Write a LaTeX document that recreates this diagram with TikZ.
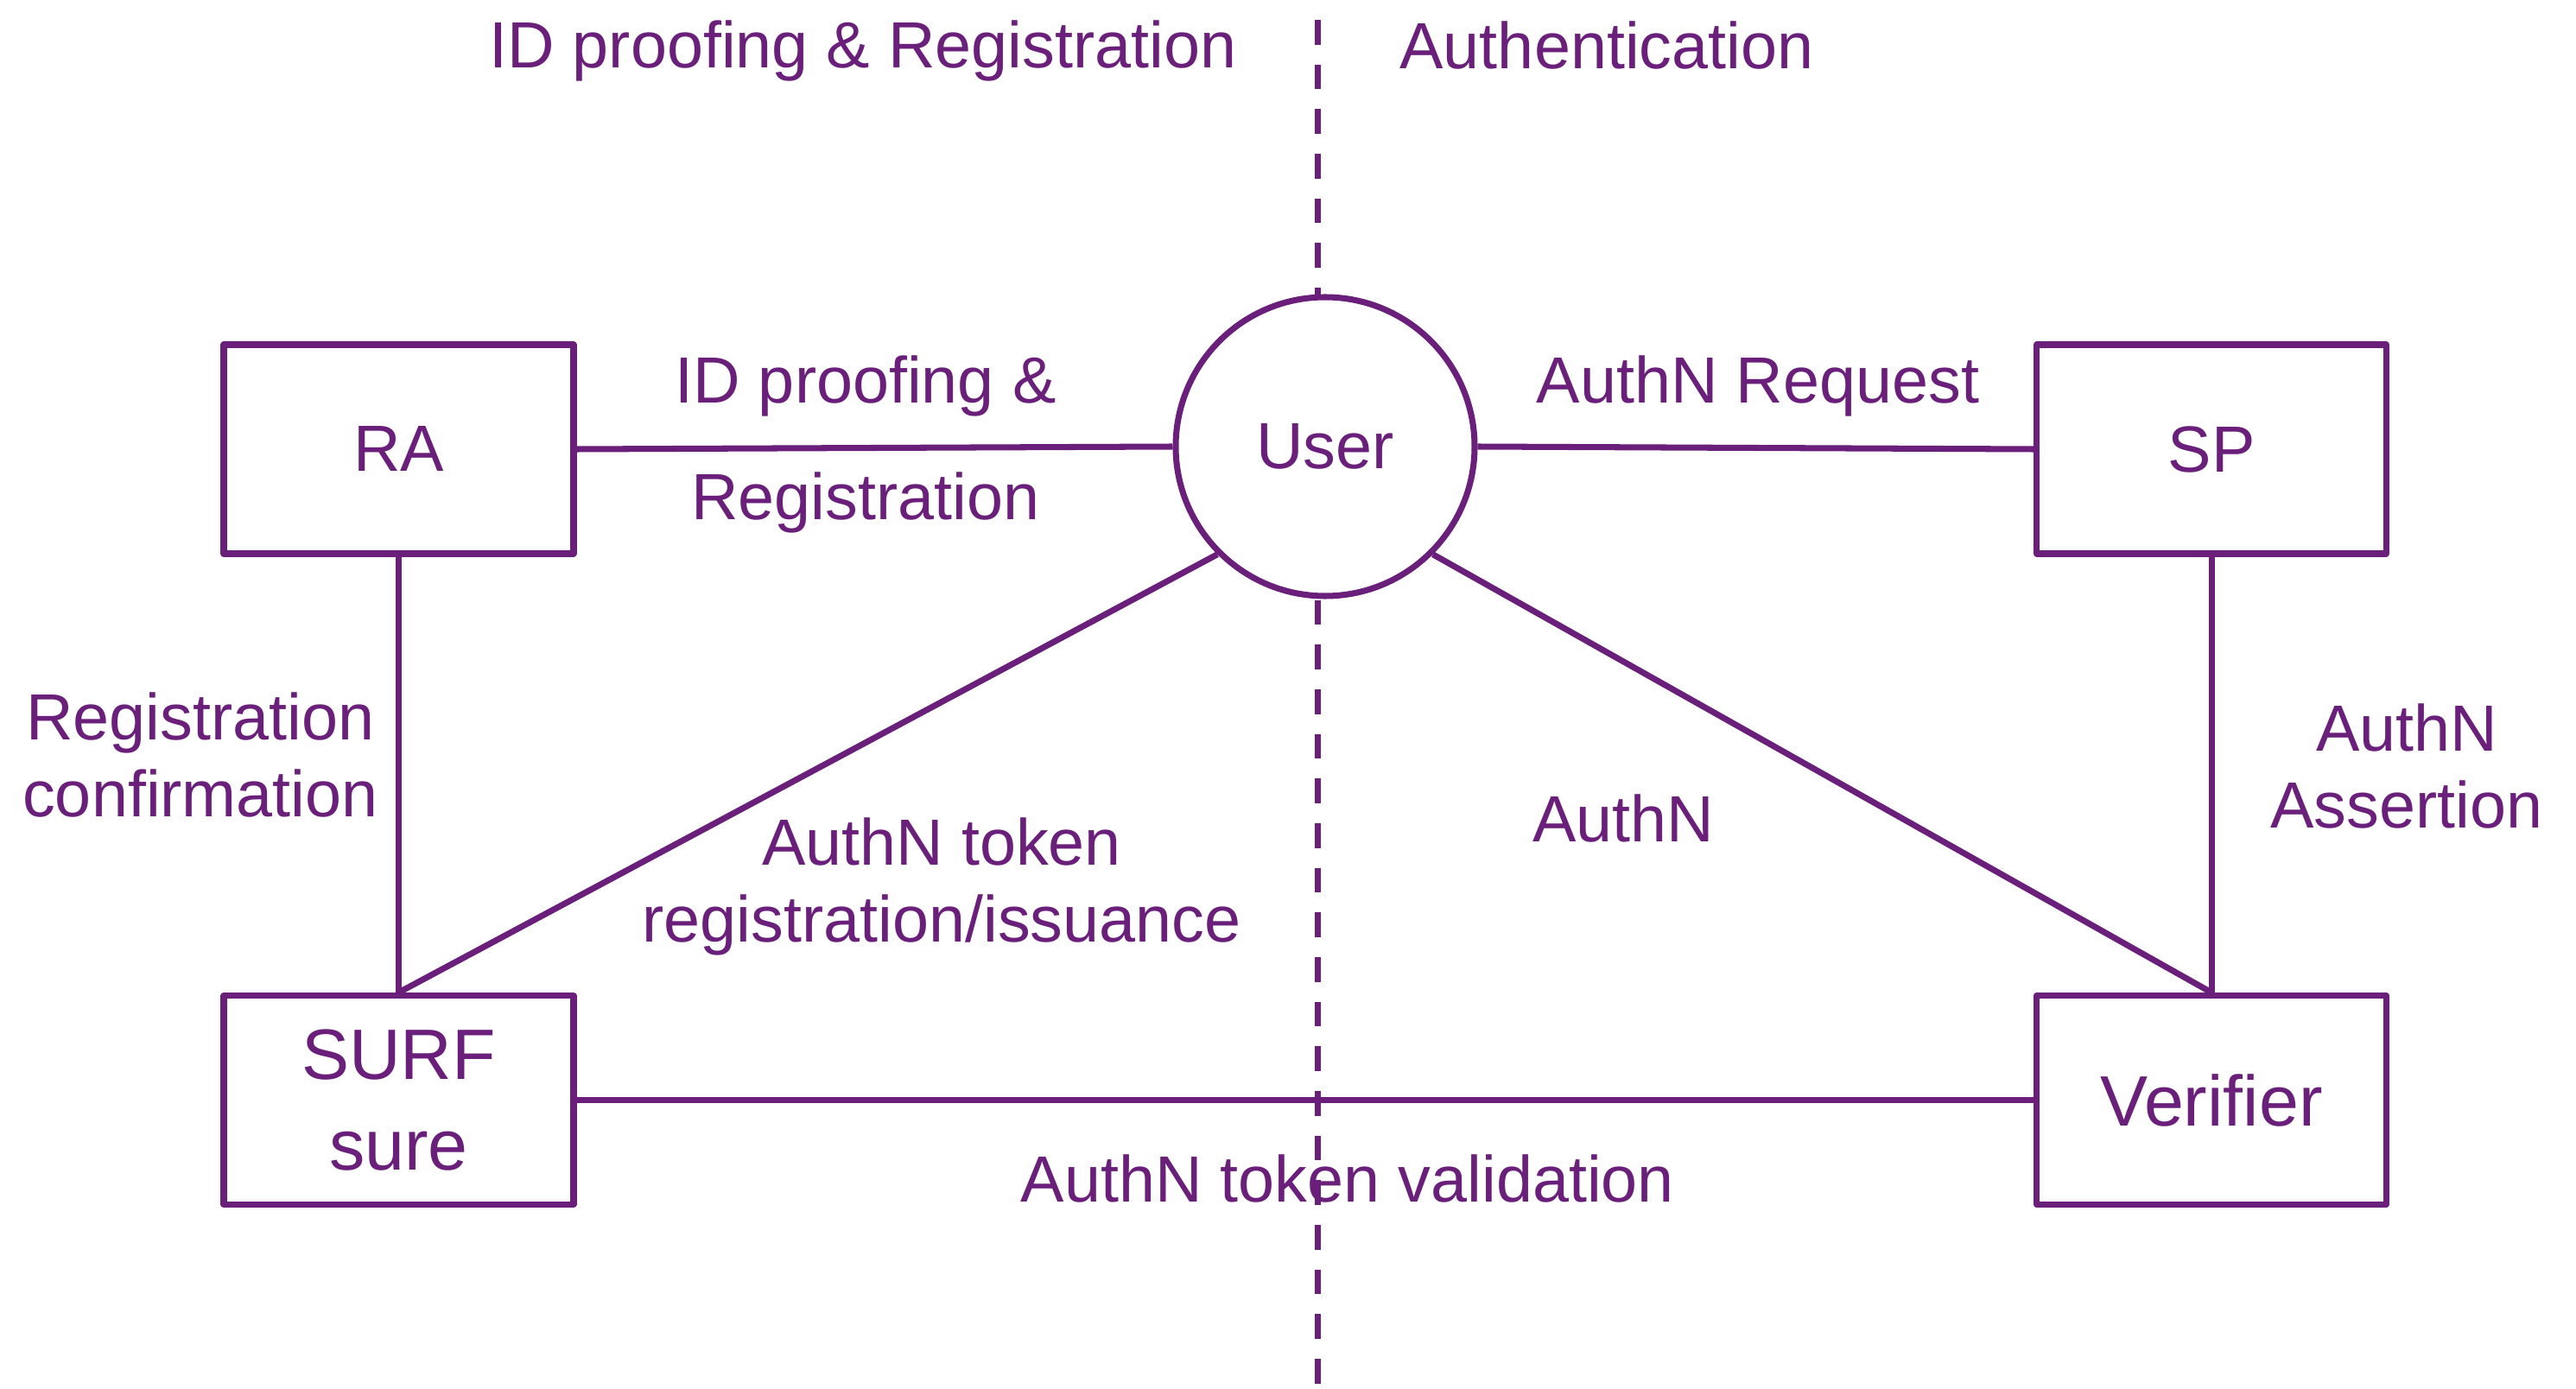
\documentclass[tikz,border=0pt]{standalone}
\usepackage{fontspec}
\setmainfont{Liberation Sans}
\definecolor{surfpurple}{RGB}{106,31,122}
\tikzstyle{every node}=[font=\fontsize{21.5}{25.3}\selectfont,text=surfpurple]
\tikzstyle{party}=[draw,rectangle,minimum width=4.05cm,minimum height=2.42cm,fill=white]
\tikzstyle{user}=[draw,circle,minimum size=3.46cm,inner sep=0pt,fill=white]
\tikzstyle{big}=[font=\fontsize{23.5}{30}\selectfont]
\tikzstyle{lbl}=[align=center]

\begin{document}
\begin{tikzpicture}[color=surfpurple,line width=2pt,line join=round]
\useasboundingbox (0,0) rectangle (29.82,16.07);
%Border between the two phases
	\coordinate (top) at (15.25,15.84);
	\coordinate (bottom) at (15.25,0);
	\draw[line cap=butt,dash pattern=on 8.2pt off 6.5pt] (top) -- (bottom);
	\node (regtitle) at (9.99,15.48) {ID proofing \& Registration};
	\node (authtitle) at (18.60,15.54) {Authentication};
%Parties
	\node[party] (RA) at (4.615,10.87) {RA};
	\node[party] (SP) at (25.60,10.87) {SP};
	\node[party,big,align=center] (SURF) at (4.615,3.335) {SURF\\sure};
	\node[party,big] (ver) at (25.60,3.335) {Verifier};
	\node[user] (user) at (15.34,10.90) {User};
%Links between them
	\draw (RA.east) -- (user.west);
	\draw (user.east) -- (SP.west);
	\draw (RA.south) -- (SURF.north);
	\draw (user.225) -- (SURF.north);
	\draw (user.315) -- (ver.north);
	\draw (SP.south) -- (ver.north);
	\draw (SURF.east) -- (ver.west);
%Link labels
	\node (idp) at (10.02,11.60) {ID proofing \&};
	\node (reg) at (10.02,10.25) {Registration};
	\node (req) at (20.35,11.60) {AuthN Request};
	\node[lbl] (conf) at (2.32,7.33) {Registration\\confirmation};
	\node[lbl] (issue) at (10.90,5.81) {AuthN token\\registration/issuance};
	\node (authn) at (18.79,6.60) {AuthN};
	\node[lbl] (assert) at (27.86,7.20) {AuthN\\Assertion};
	\node (valid) at (15.60,2.43) {AuthN token validation};
  \end{tikzpicture}
\end{document}
